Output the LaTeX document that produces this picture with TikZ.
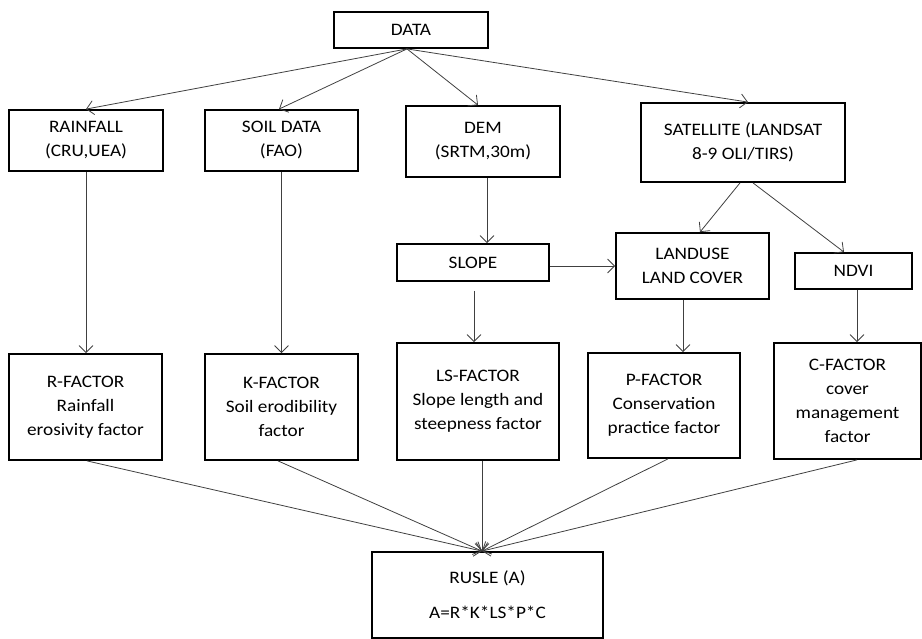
\documentclass[tikz,border=0pt]{standalone}
\usepackage{fontspec}
\setmainfont{Carlito}[FakeStretch=1.1]
\usetikzlibrary{arrows.meta,calc}
\begin{document}
\begin{tikzpicture}[x=1pt,y=-1pt,
  box/.style={draw=black,line width=1.8pt,rectangle,align=center,inner sep=2pt,
    font=\fontsize{17.5}{24}\selectfont},
  arr/.style={draw=black!75,line width=0.8pt,-{Straight Barb[length=7pt,width=14pt,line width=0.8pt]}}]
\useasboundingbox (0,0) rectangle (922,639);
\begin{scope}
\clip (0,0) rectangle (922,639);
% top level
\node[box,minimum width=154,minimum height=36] (data) at (411,30) {DATA};
\node[box,minimum width=154,minimum height=61] (rain) at (86,140.5) {RAINFALL\\(CRU,UEA)};
\node[box,minimum width=153,minimum height=61] (soil) at (281.5,140.5) {SOIL DATA\\(FAO)};
\node[box,minimum width=154,minimum height=71] (dem) at (483,141.5) {DEM\\(SRTM,30m)};
\node[box,minimum width=204,minimum height=79] (sat) at (743,142.5) {SATELLITE (LANDSAT\\8-9 OLI/TIRS)};
% middle level
\node[box,minimum width=152,minimum height=37] (slope) at (473,262.5) {SLOPE};
\node[box,minimum width=153,minimum height=66] (land) at (692.5,266) {LANDUSE\\LAND COVER};
\node[box,minimum width=117,minimum height=36] (ndvi) at (853.5,271) {NDVI};
% factors
\node[box,minimum width=153,minimum height=106] (rf) at (85.5,407) {R-FACTOR\\Rainfall\\erosivity factor};
\node[box,minimum width=153,minimum height=106] (kf) at (281.5,407) {K-FACTOR\\Soil erodibility\\factor};
\node[box,minimum width=162,minimum height=117] (ls) at (478,401.5) {LS-FACTOR\\Slope length and\\steepness factor};
\node[box,minimum width=152,minimum height=105] (pf) at (664,405.5) {P-FACTOR\\Conservation\\practice factor};
\node[box,minimum width=147,minimum height=116] (cf) at (847.5,401) {C-FACTOR\\cover\\management\\factor};
% result
\node[box,minimum width=231,minimum height=86] (rusle) at (487.5,595) {RUSLE (A)\\[11pt]A=R*K*LS*P*C};
\end{scope}
\coordinate (dsrc) at ([xshift=-4pt]data.south);
\coordinate (conv) at ([xshift=-5.5pt]rusle.north);
% data to sources
\draw[arr] (dsrc) -- (rain.north);
\draw[arr] (dsrc) -- ([xshift=-2.5pt]soil.north);
\draw[arr] (dsrc) -- ([xshift=-5pt]dem.north);
\draw[arr] (dsrc) -- ([xshift=5pt]sat.north);
% sources down
\draw[arr] (rain.south) -- (rain.south |- rf.north);
\draw[arr] (soil.south) -- (soil.south |- kf.north);
\draw[arr] ([xshift=4pt]dem.south) -- ([xshift=4pt]dem.south |- slope.north);
\draw[arr] ([xshift=-3pt]sat.south) -- ([xshift=7.5pt]land.north);
\draw[arr] ([xshift=10pt]sat.south) -- ([xshift=-9.5pt]ndvi.north);
\draw[arr] (slope.east |- land.west) -- (land.west);
\draw[arr] ([xshift=1pt,yshift=-9pt]slope.south) -- ([xshift=1pt]slope.south |- ls.north);
\draw[arr] ([xshift=-9.5pt]land.south) -- ([xshift=-9.5pt]land.south |- pf.north);
\draw[arr] ([xshift=3.5pt]ndvi.south) -- ([xshift=3.5pt]ndvi.south |- cf.north);
% factors to RUSLE
\draw[arr] ([xshift=1.5pt]rf.south) -- (conv);
\draw[arr] ([xshift=-3.5pt]kf.south) -- (conv);
\draw[arr] ([xshift=4pt]ls.south) -- (conv);
\draw[arr] ([xshift=4pt]pf.south) -- (conv);
\draw[arr] ([xshift=9.5pt]cf.south) -- (conv);
\end{tikzpicture}
\end{document}
